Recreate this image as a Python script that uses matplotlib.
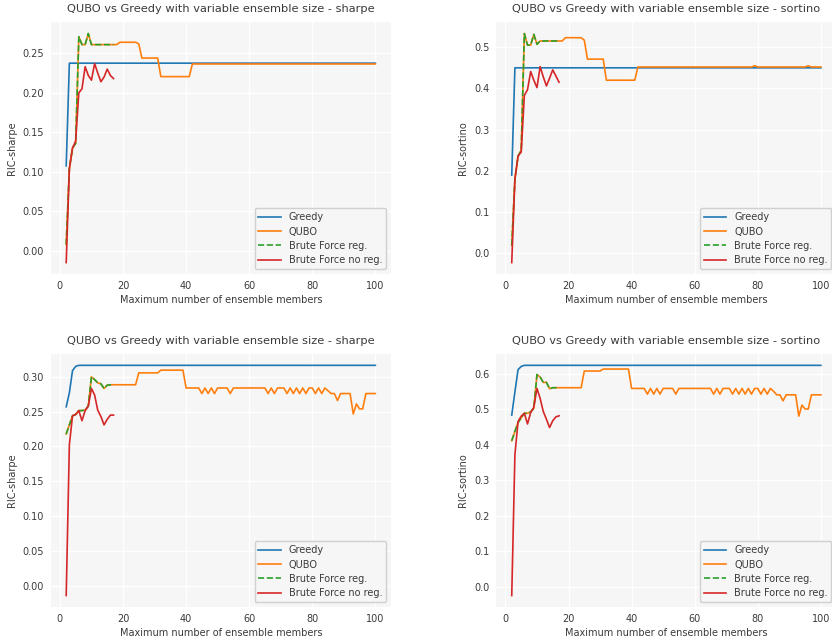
import matplotlib
matplotlib.use("Agg")
import matplotlib.pyplot as plt
import numpy as np

# ensemble sizes
x_all = list(range(2, 101))
x_bf = list(range(2, 18))

# ---------------- top row (first run) ----------------
greedy_sharpe_1 = [0.1075] + [0.2375] * 98
qubo_sharpe_1 = ([0.008, 0.104, 0.130, 0.136, 0.271, 0.261, 0.261, 0.275]
                 + [0.261] * 9 + [0.264] * 6 + [0.262] + [0.244] * 6
                 + [0.2205] * 10 + [0.2365] * 59)
bf_reg_sharpe_1 = qubo_sharpe_1[:16]
bf_noreg_sharpe_1 = [-0.015, 0.104, 0.130, 0.139, 0.200, 0.205, 0.233, 0.222,
                     0.216, 0.237, 0.225, 0.214, 0.220, 0.230, 0.222, 0.218]

greedy_sortino_1 = [0.19] + [0.45] * 98
qubo_sortino_1 = ([0.02, 0.18, 0.236, 0.25, 0.533, 0.505, 0.505, 0.531, 0.507]
                  + [0.515] * 8 + [0.523] * 6 + [0.517] + [0.471] * 6
                  + [0.42] * 10 + [0.452] * 37 + [0.455] + [0.452] * 16
                  + [0.455] + [0.452] * 4)
bf_reg_sortino_1 = qubo_sortino_1[:16]
bf_noreg_sortino_1 = [-0.022, 0.18, 0.236, 0.246, 0.383, 0.397, 0.441, 0.42,
                      0.402, 0.453, 0.428, 0.406, 0.425, 0.445, 0.43, 0.415]

# ---------------- bottom row (second run) ----------------
greedy_sharpe_2 = [0.257, 0.277, 0.309, 0.315] + [0.3165] * 95
qubo_sharpe_2 = ([0.218, 0.231, 0.244, 0.246, 0.2515, 0.2515, 0.2524, 0.258,
                  0.300, 0.296, 0.2914, 0.290, 0.2833, 0.288, 0.2886]
                 + [0.2886] * 8 + [0.3057] * 7 + [0.3096] * 8
                 + [0.284, 0.284, 0.284, 0.284, 0.284, 0.276, 0.284, 0.276,
                    0.284, 0.276, 0.284, 0.284, 0.284, 0.284, 0.276]
                 + [0.284] * 11
                 + [0.276, 0.284, 0.276, 0.284, 0.284, 0.284, 0.276, 0.284,
                    0.276, 0.284, 0.276, 0.284, 0.276, 0.284, 0.284, 0.276,
                    0.284, 0.276, 0.284, 0.280, 0.276, 0.276, 0.266, 0.276,
                    0.276, 0.276, 0.276, 0.2467, 0.261, 0.254, 0.254, 0.276,
                    0.276, 0.276, 0.276])
bf_reg_sharpe_2 = qubo_sharpe_2[:16]
bf_noreg_sharpe_2 = [-0.014, 0.2024, 0.244, 0.246, 0.2515, 0.237, 0.2515, 0.258,
                     0.2833, 0.274, 0.252, 0.243, 0.231, 0.239, 0.245, 0.245]

greedy_sortino_2 = [0.483, 0.548, 0.611, 0.620] + [0.623] * 95
qubo_sortino_2 = ([0.411, 0.437, 0.462, 0.475, 0.488, 0.488, 0.492, 0.502,
                   0.597, 0.590, 0.575, 0.575, 0.557, 0.560, 0.560]
                  + [0.560] * 8 + [0.607] * 6 + [0.6126] * 9
                  + [0.558, 0.558, 0.558, 0.558, 0.558, 0.542, 0.558, 0.542,
                     0.558, 0.542, 0.558, 0.558, 0.558, 0.558, 0.542]
                  + [0.558] * 11
                  + [0.542, 0.558, 0.542, 0.558, 0.558, 0.558, 0.542, 0.558,
                     0.542, 0.558, 0.542, 0.558, 0.542, 0.558, 0.558, 0.542,
                     0.558, 0.542, 0.558, 0.550, 0.540, 0.540, 0.523, 0.540,
                     0.540, 0.540, 0.540, 0.480, 0.511, 0.500, 0.500, 0.540,
                     0.540, 0.540, 0.540])
bf_reg_sortino_2 = qubo_sortino_2[:16]
bf_noreg_sortino_2 = [-0.025, 0.371, 0.465, 0.480, 0.488, 0.458, 0.490, 0.505,
                      0.558, 0.530, 0.493, 0.471, 0.448, 0.467, 0.478, 0.481]

panels = [
    ("sharpe", greedy_sharpe_1, qubo_sharpe_1, bf_reg_sharpe_1, bf_noreg_sharpe_1,
     np.arange(0, 0.26, 0.05), "{:.2f}"),
    ("sortino", greedy_sortino_1, qubo_sortino_1, bf_reg_sortino_1, bf_noreg_sortino_1,
     np.arange(0, 0.51, 0.1), "{:.1f}"),
    ("sharpe", greedy_sharpe_2, qubo_sharpe_2, bf_reg_sharpe_2, bf_noreg_sharpe_2,
     np.arange(0, 0.31, 0.05), "{:.2f}"),
    ("sortino", greedy_sortino_2, qubo_sortino_2, bf_reg_sortino_2, bf_noreg_sortino_2,
     np.arange(0, 0.61, 0.1), "{:.1f}"),
]

# axes boxes in figure fractions (the right column runs past the edge, as in the reference)
positions = [
    [0.0610, 0.5725, 0.4087, 0.393],
    [0.5965, 0.5725, 0.4087, 0.393],
    [0.0610, 0.0530, 0.4087, 0.395],
    [0.5965, 0.0530, 0.4087, 0.395],
]

text_col = "#3a3a3a"
fig = plt.figure(figsize=(8.32, 6.41), dpi=100)

for pos, (metric, g, q, br, bn, yt, fmt) in zip(positions, panels):
    ax = fig.add_axes(pos)
    ax.set_facecolor("#f6f6f6")
    for s in ax.spines.values():
        s.set_visible(False)
    ax.grid(True, color="white", linewidth=1.0)
    ax.set_axisbelow(True)

    ax.plot(x_all, g, color="tab:blue", lw=1.2, label="Greedy")
    ax.plot(x_all, q, color="tab:orange", lw=1.2, label="QUBO")
    ax.plot(x_bf, br, color="tab:green", lw=1.2, ls="--", label="Brute Force reg.")
    ax.plot(x_bf, bn, color="tab:red", lw=1.2, label="Brute Force no reg.")

    ax.set_xticks([0, 20, 40, 60, 80, 100])
    ax.set_yticks(yt)
    ax.set_yticklabels([fmt.format(v) for v in yt])
    ax.tick_params(length=0, labelsize=7, colors=text_col, pad=5)
    ax.set_title(f"QUBO vs Greedy with variable ensemble size - {metric}",
                 fontsize=8.2, color=text_col, pad=7)
    ax.set_xlabel("Maximum number of ensemble members", fontsize=7, color=text_col, labelpad=3)
    ax.set_ylabel(f"RIC-{metric}", fontsize=7, color=text_col, labelpad=4)

    leg = ax.legend(loc="lower right", fontsize=7, facecolor="#f6f6f6",
                    edgecolor="#d0d0d0", framealpha=1.0, handlelength=2.3,
                    labelspacing=0.45)
    for t in leg.get_texts():
        t.set_color(text_col)

fig.savefig("out.png", dpi=100)
